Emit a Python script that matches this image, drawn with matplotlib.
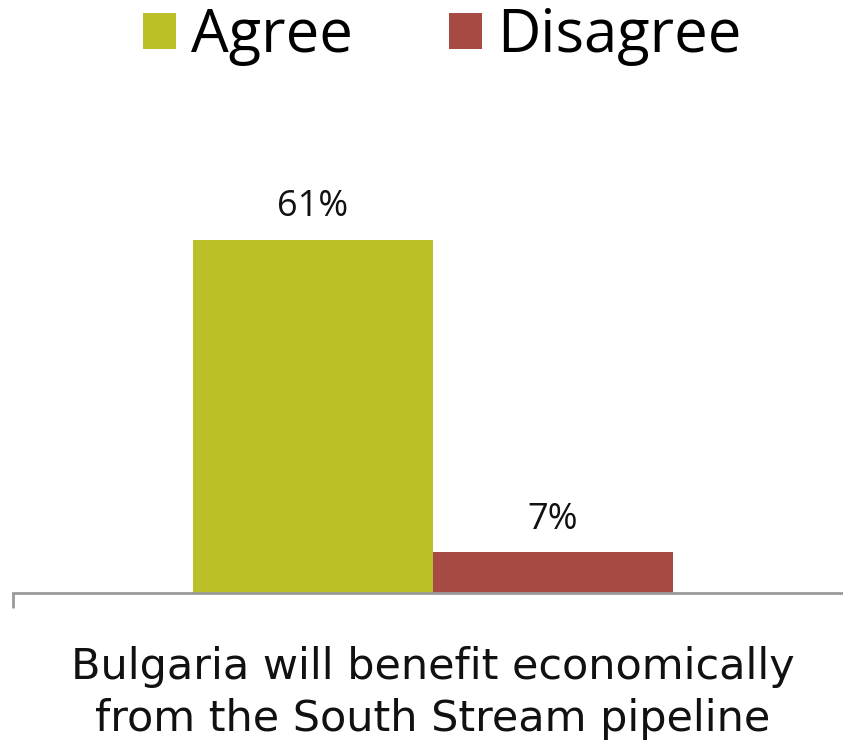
import matplotlib
matplotlib.use('Agg')
import matplotlib.pyplot as plt
from matplotlib.patches import Patch

# data
series = ['Agree', 'Disagree']
values = [61, 7]
category = 'Bulgaria will benefit economically\nfrom the South Stream pipeline'
colors = ['#bbbf28', '#a84a44']

W, H = 843, 748
fig = plt.figure(figsize=(W / 100, H / 100), dpi=100)

# axes in pixel layout: axis line at y=593, left edge x=13
ax_top = 120
ax = fig.add_axes([13 / W, (H - 593) / H, (W - 13) / W, (593 - ax_top) / H])

px_per_unit = (593 - 240) / values[0]
offsets = [-0.5, 0.5]
for off, v, c in zip(offsets, values, colors):
    ax.bar(off, v, width=1.0, color=c, linewidth=0)
    ax.annotate(f'{v}%', xy=(off, v), xytext=(0, 17), textcoords='offset points',
                ha='center', va='baseline', fontsize=26, family='Open Sans', color='#111111')

ax.set_xlim(-1.75, (W - 433) / 240)
ax.set_ylim(0, (593 - ax_top) / px_per_unit)

for s in ['top', 'right', 'left']:
    ax.spines[s].set_visible(False)
ax.spines['bottom'].set_color('#9a9a9a')
ax.spines['bottom'].set_linewidth(2)
ax.set_yticks([])

ax.set_xticks([0])
ax.set_xticklabels([category], fontsize=31, family='DejaVu Sans', color='#111111',
                   linespacing=1.31)
ax.tick_params(axis='x', which='major', length=0, pad=38)
ax.set_xticks([-1.75], minor=True)
ax.tick_params(axis='x', which='minor', length=10.5, width=2, color='#9a9a9a')

handles = [Patch(facecolor=c, edgecolor='none', label=s) for s, c in zip(series, colors)]
fig.legend(handles=handles, loc='upper left', bbox_to_anchor=(143 / W, 1 - 6 / H),
           ncol=2, frameon=False, prop={'family': 'Open Sans', 'size': 43},
           handlelength=0.56, handleheight=0.56, handletextpad=0.25,
           columnspacing=1.6, borderpad=0.0, borderaxespad=0.0)

fig.savefig('out.png', dpi=100)
